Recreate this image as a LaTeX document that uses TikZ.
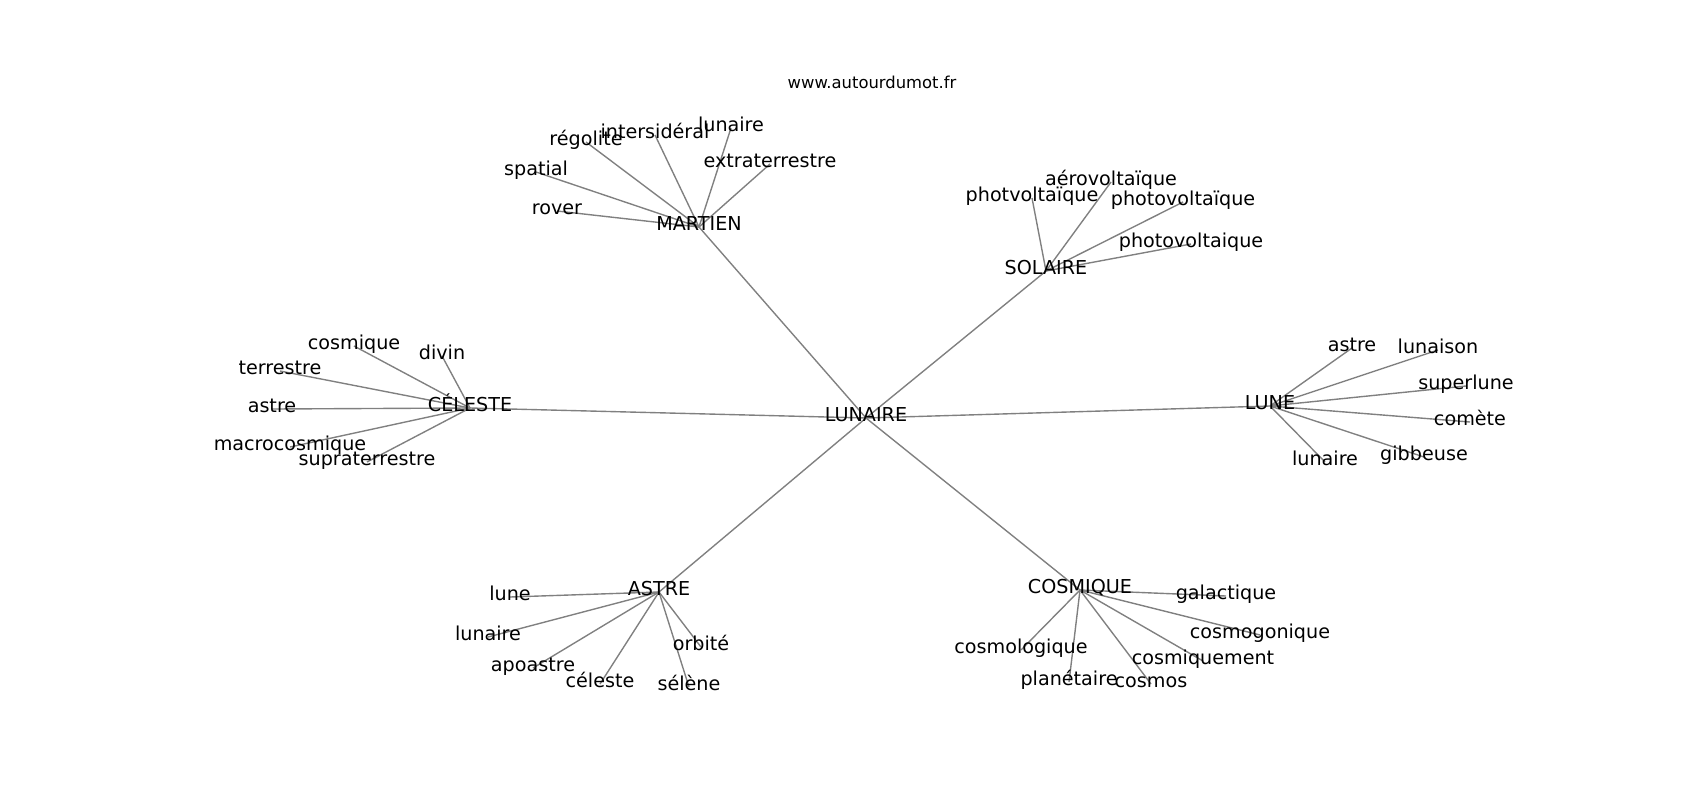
\documentclass[tikz,border=0pt]{standalone}
\usepackage{fontspec}
\setmainfont{DejaVu Sans}
\pgfdeclarelayer{background}
\pgfsetlayers{background,main}

\begin{document}
\begin{tikzpicture}[x=0.72pt, y=-0.72pt,
    word/.style={font=\fontsize{13.8}{16}\selectfont, inner sep=0pt, text height=0.76em, text depth=0.24em},
    link/.style={draw=gray, line width=1pt}]
            \useasboundingbox (0,0) rectangle (1700,800);
            \node[font=\fontsize{11.8}{14}\selectfont, inner sep=0pt] (title) at (872,82) {www.autourdumot.fr};

            \node[word] (LUN) at (866,418) {LUNAIRE};
            \node[word] (MAR) at (699,227) {MARTIEN};
            \node[word] (SOL) at (1046,271) {SOLAIRE};
            \node[word] (CEL) at (470,408) {CÉLESTE};
            \node[word] (LNE) at (1270,406) {LUNE};
            \node[word] (AST) at (659,592) {ASTRE};
            \node[word] (COS) at (1080,590) {COSMIQUE};

            \node[word] (m1) at (557,211) {rover};
            \node[word] (m2) at (536,172) {spatial};
            \node[word] (m3) at (586,142) {régolite};
            \node[word] (m4) at (655,135) {intersidéral};
            \node[word] (m5) at (731,128) {lunaire};
            \node[word] (m6) at (770,164) {extraterrestre};

            \node[word] (s1) at (1032,198) {photvoltaïque};
            \node[word] (s2) at (1111,182) {aérovoltaïque};
            \node[word] (s3) at (1183,202) {photovoltaïque};
            \node[word] (s4) at (1191,244) {photovoltaique};

            \node[word] (c1) at (354,346) {cosmique};
            \node[word] (c2) at (442,356) {divin};
            \node[word] (c3) at (280,371) {terrestre};
            \node[word] (c4) at (272,409) {astre};
            \node[word] (c5) at (290,447) {macrocosmique};
            \node[word] (c6) at (367,462) {supraterrestre};

            \node[word] (l1) at (1352,348) {astre};
            \node[word] (l2) at (1438,350) {lunaison};
            \node[word] (l3) at (1466,386) {superlune};
            \node[word] (l4) at (1470,422) {comète};
            \node[word] (l5) at (1424,457) {gibbeuse};
            \node[word] (l6) at (1325,462) {lunaire};

            \node[word] (a1) at (510,597) {lune};
            \node[word] (a2) at (488,637) {lunaire};
            \node[word] (a3) at (533,668) {apoastre};
            \node[word] (a4) at (600,684) {céleste};
            \node[word] (a5) at (689,687) {sélène};
            \node[word] (a6) at (701,647) {orbité};

            \node[word] (k1) at (1226,596) {galactique};
            \node[word] (k2) at (1260,635) {cosmogonique};
            \node[word] (k3) at (1203,661) {cosmiquement};
            \node[word] (k4) at (1151,684) {cosmos};
            \node[word] (k5) at (1069,682) {planétaire};
            \node[word] (k6) at (1021,650) {cosmologique};

            \begin{pgfonlayer}{background}
            \draw[link] (LUN.center) -- (MAR.center);
            \draw[link] (LUN.center) -- (SOL.center);
            \draw[link] (LUN.center) -- (CEL.center);
            \draw[link] (LUN.center) -- (LNE.center);
            \draw[link] (LUN.center) -- (AST.center);
            \draw[link] (LUN.center) -- (COS.center);

            \draw[link] (MAR.center) -- (m1.center);
            \draw[link] (MAR.center) -- (m2.center);
            \draw[link] (MAR.center) -- (m3.center);
            \draw[link] (MAR.center) -- (m4.center);
            \draw[link] (MAR.center) -- (m5.center);
            \draw[link] (MAR.center) -- (m6.center);

            \draw[link] (SOL.center) -- (s1.center);
            \draw[link] (SOL.center) -- (s2.center);
            \draw[link] (SOL.center) -- (s3.center);
            \draw[link] (SOL.center) -- (s4.center);

            \draw[link] (CEL.center) -- (c1.center);
            \draw[link] (CEL.center) -- (c2.center);
            \draw[link] (CEL.center) -- (c3.center);
            \draw[link] (CEL.center) -- (c4.center);
            \draw[link] (CEL.center) -- (c5.center);
            \draw[link] (CEL.center) -- (c6.center);

            \draw[link] (LNE.center) -- (l1.center);
            \draw[link] (LNE.center) -- (l2.center);
            \draw[link] (LNE.center) -- (l3.center);
            \draw[link] (LNE.center) -- (l4.center);
            \draw[link] (LNE.center) -- (l5.center);
            \draw[link] (LNE.center) -- (l6.center);

            \draw[link] (AST.center) -- (a1.center);
            \draw[link] (AST.center) -- (a2.center);
            \draw[link] (AST.center) -- (a3.center);
            \draw[link] (AST.center) -- (a4.center);
            \draw[link] (AST.center) -- (a5.center);
            \draw[link] (AST.center) -- (a6.center);

            \draw[link] (COS.center) -- (k1.center);
            \draw[link] (COS.center) -- (k2.center);
            \draw[link] (COS.center) -- (k3.center);
            \draw[link] (COS.center) -- (k4.center);
            \draw[link] (COS.center) -- (k5.center);
            \draw[link] (COS.center) -- (k6.center);
            \end{pgfonlayer}
        \end{tikzpicture}
\end{document}
